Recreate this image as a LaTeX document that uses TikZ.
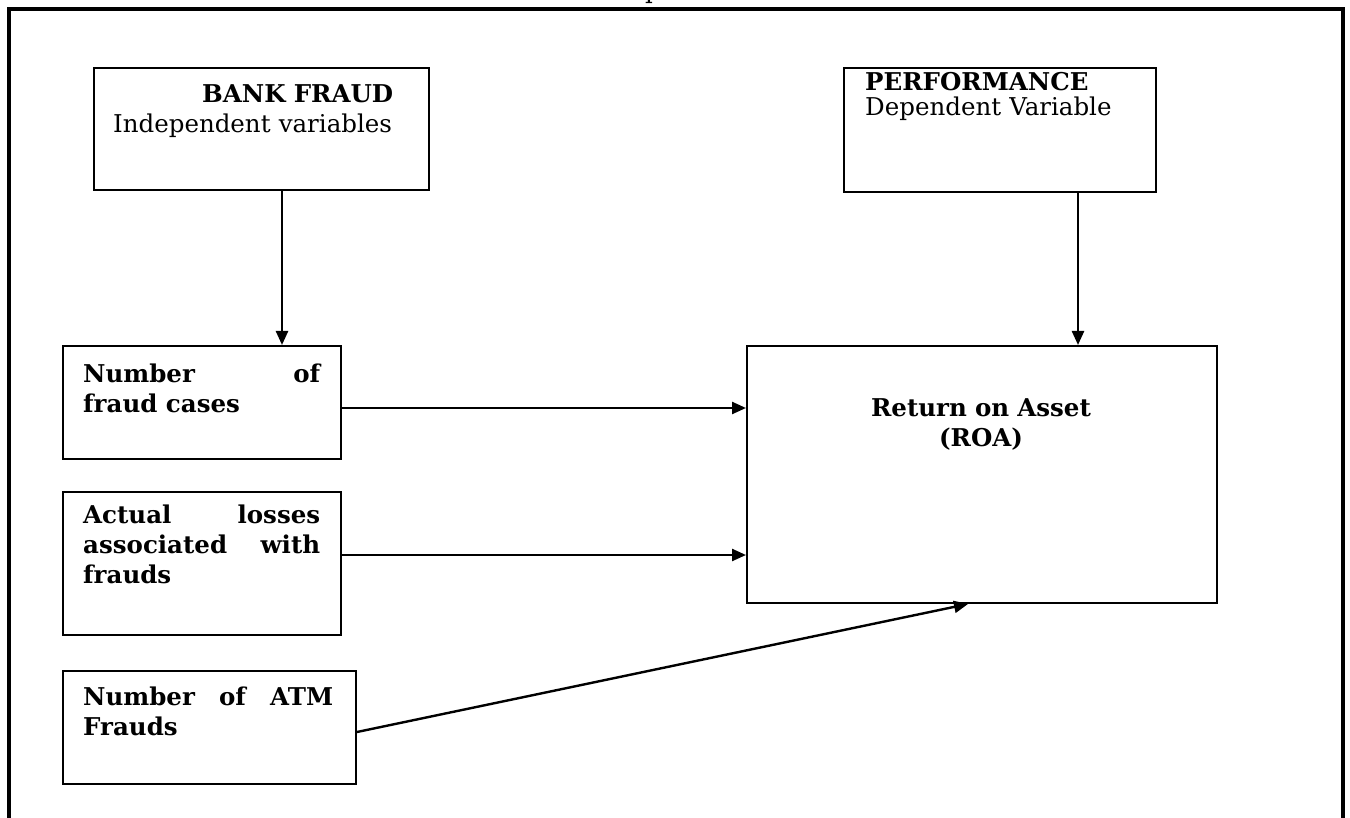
\documentclass[tikz,border=0pt]{standalone}
\usepackage{fontspec}
\setmainfont{DejaVu Serif}
\usetikzlibrary{arrows.meta, positioning, calc}

\begin{document}
\begin{tikzpicture}[
        x=1pt, y=1pt,
        box/.style={rectangle, draw, line width=2pt, anchor=north west, inner sep=0pt},
        arr/.style={-{Triangle[length=14pt, width=12pt]}, line width=2.4pt},
        txt/.style={anchor=base west, inner sep=0pt, text width=320pt, align=left, font=\fontsize{24.5}{30}\selectfont},
        bodytxt/.style={txt, text width=237pt, align=justify, font=\fontsize{24.5}{30}\selectfont\bfseries}
    ]
        \useasboundingbox (0,0) rectangle (1350,-818);

        % outer frame, open at the bottom
        \draw[line width=4pt] (9,-818) -- (9,-9) -- (1343,-9) -- (1343,-818);
        \node[anchor=base, inner sep=0pt, font=\fontsize{24.5}{30}\selectfont] (cap) at (653,1) {p};

        % Independent / dependent headers
        \node[box, minimum width=335pt, minimum height=122pt] (bank) at (93,-67) {};
        \node[txt] (bankt) at (113,-103) {\hspace*{89pt}\textbf{BANK FRAUD}\\Independent variables};

        \node[box, minimum width=312pt, minimum height=124pt] (perf) at (843,-67) {};
        \node[txt] (perft) at (865,-91) {\textbf{PERFORMANCE}\\[-5pt]Dependent Variable};

        % Fraud measures
        \node[box, minimum width=278pt, minimum height=113pt] (num) at (62,-345) {};
        \node[bodytxt] (numt) at (83,-383) {Number of\linebreak fraud cases};

        \node[box, minimum width=278pt, minimum height=143pt] (loss) at (62,-491) {};
        \node[bodytxt] (losst) at (83,-523) {Actual losses\linebreak associated with\linebreak frauds};

        \node[box, minimum width=293pt, minimum height=113pt] (atm) at (62,-670) {};
        \node[bodytxt, text width=250pt] (atmt) at (83,-705) {Number of ATM\linebreak Frauds};

        % Performance measure
        \node[box, minimum width=470pt, minimum height=257pt] (roa) at (746,-345) {};
        \node[txt, anchor=base, text width=400pt, align=center, font=\fontsize{24.5}{30}\selectfont\bfseries] (roat) at (981,-417) {Return on Asset\\(ROA)};

        % Arrows
        \coordinate (b1) at ([xshift=20.5pt]bank.south);
        \coordinate (r1) at ([xshift=96pt]roa.north);
        \draw[arr] (b1) -- (b1 |- num.north);
        \draw[arr] (r1 |- perf.south) -- (r1);
        \draw[arr] ([yshift=-5.5pt]num.east) coordinate (n1) -- (n1 -| roa.west);
        \draw[arr] ([yshift=8.5pt]loss.east) coordinate (l1) -- (l1 -| roa.west);
        \draw[arr] ([yshift=-4.5pt]atm.east) -- ([xshift=-14pt]roa.south);
    \end{tikzpicture}
\end{document}
